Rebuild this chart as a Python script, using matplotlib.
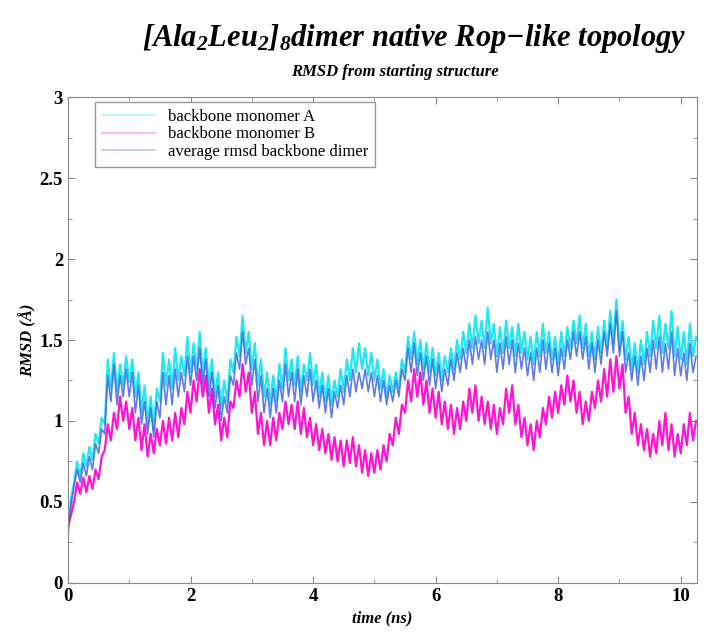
import numpy as np
import matplotlib
matplotlib.use('Agg')
import matplotlib.pyplot as plt
from matplotlib.ticker import MultipleLocator

plt.rcParams['font.family'] = ['Liberation Serif', 'DejaVu Serif']
plt.rcParams['mathtext.fontset'] = 'custom'
plt.rcParams['mathtext.rm'] = 'Liberation Serif:italic:bold'
plt.rcParams['mathtext.it'] = 'Liberation Serif:italic:bold'
plt.rcParams['mathtext.bf'] = 'Liberation Serif:italic:bold'

# RMSD values, one sample every 0.05 ns
time_step = 0.05

rmsd_a = [
    0.30, 0.52, 0.62, 0.75, 0.66, 0.80, 0.72, 0.84, 0.76, 0.92,
    0.86, 1.02, 0.98, 1.38, 1.20, 1.42, 1.18, 1.35, 1.22, 1.40,
    1.24, 1.38, 1.15, 1.30, 1.05, 1.22, 0.98, 1.15, 0.95, 1.20,
    1.12, 1.42, 1.22, 1.38, 1.20, 1.45, 1.25, 1.40, 1.28, 1.52,
    1.30, 1.48, 1.32, 1.55, 1.28, 1.45, 1.22, 1.38, 1.15, 1.30,
    1.08, 1.25, 1.12, 1.38, 1.30, 1.52, 1.40, 1.65, 1.42, 1.55,
    1.32, 1.48, 1.22, 1.38, 1.15, 1.30, 1.10, 1.28, 1.12, 1.35,
    1.20, 1.45, 1.25, 1.38, 1.22, 1.40, 1.18, 1.35, 1.25, 1.42,
    1.22, 1.35, 1.15, 1.30, 1.12, 1.28, 1.10, 1.25, 1.15, 1.32,
    1.18, 1.38, 1.25, 1.45, 1.30, 1.48, 1.32, 1.45, 1.28, 1.42,
    1.25, 1.38, 1.20, 1.32, 1.15, 1.28, 1.18, 1.30, 1.20, 1.38,
    1.30, 1.52, 1.38, 1.55, 1.35, 1.50, 1.32, 1.48, 1.30, 1.45,
    1.28, 1.42, 1.25, 1.40, 1.30, 1.45, 1.32, 1.50, 1.38, 1.55,
    1.42, 1.60, 1.45, 1.65, 1.48, 1.62, 1.45, 1.70, 1.48, 1.60,
    1.40, 1.58, 1.42, 1.62, 1.45, 1.58, 1.40, 1.60, 1.42, 1.55,
    1.38, 1.52, 1.35, 1.55, 1.40, 1.60, 1.42, 1.55, 1.38, 1.52,
    1.35, 1.55, 1.40, 1.58, 1.45, 1.62, 1.48, 1.65, 1.45, 1.60,
    1.40, 1.55, 1.38, 1.58, 1.42, 1.62, 1.45, 1.68, 1.48, 1.75,
    1.45, 1.62, 1.38, 1.52, 1.32, 1.48, 1.30, 1.50, 1.35, 1.55,
    1.40, 1.62, 1.45, 1.65, 1.42, 1.60, 1.45, 1.68, 1.40, 1.58,
    1.38, 1.55, 1.35, 1.60, 1.40, 1.52,
]

rmsd_b = [
    0.35, 0.42, 0.50, 0.62, 0.55, 0.65, 0.56, 0.66, 0.58, 0.70,
    0.64, 0.78, 0.82, 0.98, 0.88, 1.05, 0.95, 1.15, 1.00, 1.12,
    0.95, 1.08, 0.88, 1.02, 0.82, 0.98, 0.78, 0.92, 0.80, 0.95,
    0.85, 1.00, 0.86, 1.02, 0.88, 1.05, 0.90, 1.08, 0.98, 1.18,
    1.05, 1.25, 1.12, 1.32, 1.15, 1.28, 1.05, 1.20, 0.98, 1.10,
    0.88, 1.02, 0.90, 1.12, 1.08, 1.25, 1.15, 1.35, 1.18, 1.30,
    1.05, 1.18, 0.92, 1.05, 0.85, 1.00, 0.85, 1.02, 0.88, 1.05,
    0.95, 1.12, 0.98, 1.10, 0.95, 1.12, 0.92, 1.08, 0.90, 1.02,
    0.85, 0.98, 0.82, 0.95, 0.80, 0.92, 0.76, 0.90, 0.75, 0.88,
    0.72, 0.88, 0.74, 0.90, 0.72, 0.85, 0.68, 0.82, 0.66, 0.80,
    0.68, 0.82, 0.70, 0.85, 0.75, 0.92, 0.85, 1.02, 0.92, 1.10,
    1.05, 1.25, 1.12, 1.32, 1.15, 1.30, 1.10, 1.25, 1.05, 1.20,
    1.02, 1.18, 0.98, 1.12, 0.95, 1.10, 0.92, 1.08, 0.95, 1.12,
    1.00, 1.20, 1.05, 1.22, 1.00, 1.15, 0.98, 1.12, 0.95, 1.10,
    0.92, 1.08, 0.98, 1.20, 1.05, 1.22, 0.98, 1.10, 0.90, 1.02,
    0.85, 0.98, 0.82, 1.00, 0.90, 1.08, 0.98, 1.15, 1.02, 1.18,
    1.05, 1.22, 1.10, 1.28, 1.12, 1.25, 1.05, 1.18, 0.98, 1.12,
    1.00, 1.18, 1.08, 1.25, 1.12, 1.32, 1.15, 1.38, 1.18, 1.40,
    1.20, 1.35, 1.05, 1.15, 0.92, 1.05, 0.85, 0.98, 0.82, 0.95,
    0.78, 0.92, 0.80, 1.00, 0.85, 1.05, 0.82, 0.98, 0.78, 0.92,
    0.80, 0.98, 0.85, 1.05, 0.88, 1.00,
]

rmsd_dimer = [
    0.32, 0.48, 0.60, 0.70, 0.62, 0.74, 0.66, 0.78, 0.70, 0.86,
    0.80, 0.95, 0.92, 1.28, 1.12, 1.35, 1.10, 1.28, 1.15, 1.32,
    1.15, 1.30, 1.05, 1.22, 0.98, 1.12, 0.92, 1.08, 0.90, 1.12,
    1.02, 1.30, 1.10, 1.28, 1.10, 1.32, 1.15, 1.30, 1.18, 1.40,
    1.22, 1.40, 1.25, 1.45, 1.22, 1.38, 1.15, 1.30, 1.08, 1.22,
    1.00, 1.15, 1.05, 1.28, 1.22, 1.42, 1.32, 1.55, 1.35, 1.45,
    1.22, 1.38, 1.12, 1.28, 1.05, 1.20, 1.02, 1.20, 1.05, 1.25,
    1.12, 1.35, 1.15, 1.30, 1.12, 1.32, 1.10, 1.28, 1.15, 1.32,
    1.12, 1.25, 1.08, 1.22, 1.05, 1.20, 1.02, 1.18, 1.08, 1.22,
    1.10, 1.28, 1.15, 1.32, 1.18, 1.30, 1.20, 1.32, 1.18, 1.30,
    1.15, 1.28, 1.12, 1.25, 1.10, 1.22, 1.12, 1.25, 1.15, 1.32,
    1.25, 1.45, 1.30, 1.48, 1.28, 1.42, 1.25, 1.40, 1.22, 1.38,
    1.20, 1.35, 1.18, 1.32, 1.22, 1.38, 1.25, 1.42, 1.30, 1.45,
    1.32, 1.50, 1.35, 1.52, 1.38, 1.50, 1.35, 1.55, 1.38, 1.50,
    1.30, 1.48, 1.32, 1.52, 1.35, 1.50, 1.30, 1.48, 1.32, 1.45,
    1.28, 1.42, 1.25, 1.45, 1.30, 1.50, 1.32, 1.48, 1.30, 1.45,
    1.28, 1.45, 1.32, 1.50, 1.38, 1.55, 1.40, 1.55, 1.38, 1.52,
    1.32, 1.48, 1.30, 1.50, 1.35, 1.55, 1.40, 1.60, 1.42, 1.68,
    1.40, 1.55, 1.30, 1.42, 1.25, 1.40, 1.22, 1.40, 1.25, 1.45,
    1.30, 1.50, 1.32, 1.52, 1.30, 1.48, 1.32, 1.55, 1.28, 1.45,
    1.28, 1.42, 1.25, 1.48, 1.30, 1.40,
]

labels = ['backbone monomer A', 'backbone monomer B', 'average rmsd backbone dimer']
colors = ['#22e6f0', '#ff14d2', '#3a5ae0']

time_ns = np.arange(len(rmsd_a)) * time_step

fig = plt.figure(figsize=(7.08, 6.44), dpi=100)
ax = fig.add_axes([0.096, 0.095, 0.888, 0.754])

ax.plot(time_ns, rmsd_a, color=colors[0], lw=1.6, label=labels[0])
ax.plot(time_ns, rmsd_b, color=colors[1], lw=1.6, label=labels[1])
ax.plot(time_ns, rmsd_dimer, color=colors[2], lw=1.2, alpha=0.8, label=labels[2])

ax.set_xlim(0, 10.26)
ax.set_ylim(0, 3)
ax.xaxis.set_major_locator(MultipleLocator(2))
ax.xaxis.set_minor_locator(MultipleLocator(1))
ax.yaxis.set_major_locator(MultipleLocator(0.5))
ax.yaxis.set_minor_locator(MultipleLocator(0.25))
ax.set_yticks([0, 0.5, 1, 1.5, 2, 2.5, 3])
ax.set_yticklabels(['0', '0.5', '1', '1.5', '2', '2.5', '3'])
ax.tick_params(which='both', direction='in', top=True, right=True, colors='#888888',
               labelcolor='black', labelsize=13.5)
ax.tick_params(which='major', length=5)
ax.tick_params(which='minor', length=3)
for lab in ax.get_xticklabels() + ax.get_yticklabels():
    lab.set_fontweight('bold')
for sp in ax.spines.values():
    sp.set_color('#888888')

ax.set_xlabel('time (ns)', fontsize=12, fontweight='bold', style='italic', labelpad=4)
ax.set_ylabel('RMSD (Å)', fontsize=12, fontweight='bold', style='italic', labelpad=2)

leg = ax.legend(loc='upper left', bbox_to_anchor=(0.043, 0.99), borderaxespad=0,
                fontsize=12, fancybox=False, framealpha=1, edgecolor='#999999',
                handlelength=3.2, borderpad=0.4, labelspacing=0.1)
for h in leg.get_lines():
    h.set_alpha(0.35)
    h.set_linewidth(1.2)

fig.text(0.585, 0.94, r'[Ala$_2$Leu$_2$]$_8$dimer native Rop$-$like topology',
         ha='center', va='center', fontsize=22, fontweight='bold', style='italic')
fig.text(0.558, 0.888, 'RMSD from starting structure', ha='center', va='center',
         fontsize=12, fontweight='bold', style='italic')

fig.savefig('out.png', dpi=100)
